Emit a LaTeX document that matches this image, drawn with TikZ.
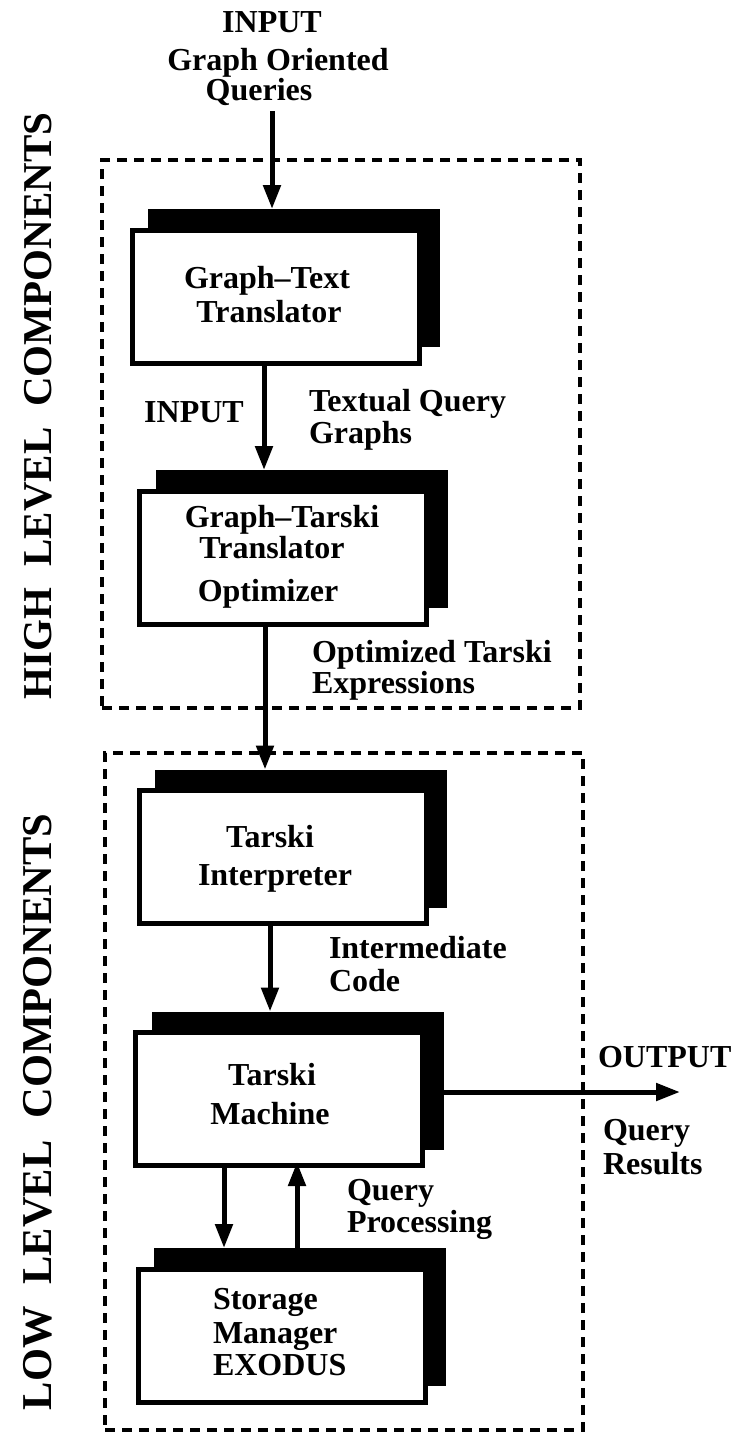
\documentclass[tikz,border=0pt]{standalone}
\usepackage{fontspec}
\setmainfont{Liberation Serif}
\usetikzlibrary{arrows.meta}
\begin{document}
\begin{tikzpicture}[x=1pt,y=-1pt,
  every node/.style={font=\bfseries\fontsize{32}{35}\selectfont, inner sep=0pt, outer sep=0pt},
  front/.style={draw=black, line width=5pt, fill=white, minimum width=287pt, minimum height=133pt},
  shadow/.style={fill=black, minimum width=292pt, minimum height=138pt},
  grp/.style={draw=black, line width=4.5pt, dash pattern=on 10pt off 7pt},
  arr/.style={line width=5pt, -{Triangle[length=24pt,width=17pt]}},
  lbl/.style={anchor=base},
  lblw/.style={anchor=base west},
  side/.style={rotate=90}
]
\useasboundingbox (0,0) rectangle (735,1433);

% group frames
\node[grp, minimum width=478pt, minimum height=548pt] (high) at (341,434) {};
\node[grp, minimum width=478pt, minimum height=677pt] (low) at (344,1091.5) {};

% side labels
\node[side, font=\bfseries\fontsize{41}{44}\selectfont] (hl) at (38,406) {HIGH\hspace{21pt}LEVEL\hspace{21pt}COMPONENTS};
\node[side, font=\bfseries\fontsize{42.5}{46}\selectfont] (ll) at (38,1112) {LOW\hspace{22pt}LEVEL\hspace{22pt}COMPONENTS};

% boxes: shadows then fronts
\node[shadow] (s1) at (294,278) {};
\node[front]  (b1) at (276,296.5) {};
\node[shadow] (s2) at (301.5,539) {};
\node[front]  (b2) at (283,557.5) {};
\node[shadow] (s3) at (301,838.5) {};
\node[front]  (b3) at (282.5,857) {};
\node[shadow] (s4) at (298,1080.5) {};
\node[front]  (b4) at (278.5,1098.5) {};
\node[shadow] (s5) at (299.5,1317) {};
\node[front]  (b5) at (281.5,1335.5) {};

% box texts
\node[lbl] (t1a) at (267,288) {Graph–Text};
\node[lbl] (t1b) at (269,322) {Translator};
\node[lbl] (t2a) at (282,527) {Graph–Tarski};
\node[lbl] (t2b) at (272,558) {Translator};
\node[lbl] (t2c) at (268,601) {Optimizer};
\node[lbl] (t3a) at (270,847) {Tarski};
\node[lbl] (t3b) at (275,885) {Interpreter};
\node[lbl] (t4a) at (272,1085) {Tarski};
\node[lbl] (t4b) at (270,1124) {Machine};
\node[lblw] (t5a) at (213,1309) {Storage};
\node[lblw] (t5b) at (213,1343) {Manager};
\node[lblw] (t5c) at (213,1375) {EXODUS};

% top input
\node[lbl] (in0) at (272,32) {INPUT};
\node[lbl] (in1) at (278,70) {Graph Oriented};
\node[lbl] (in2) at (259,100) {Queries};
\coordinate (inq) at (272,111);

% labels on connectors
\node[lbl] (inp) at (194,422) {INPUT};
\node[lblw] (tq1) at (309,411) {Textual Query};
\node[lblw] (tq2) at (309,443) {Graphs};
\node[lblw] (ot1) at (312,662) {Optimized Tarski};
\node[lblw] (ot2) at (312,693) {Expressions};
\node[lblw] (ic1) at (329,958) {Intermediate};
\node[lblw] (ic2) at (329,991) {Code};
\node[lblw] (out1) at (598,1067) {OUTPUT};
\node[lblw] (qr1) at (603,1140) {Query};
\node[lblw] (qr2) at (603,1174) {Results};
\node[lblw] (qp1) at (347,1200) {Query};
\node[lblw] (qp2) at (347,1232) {Processing};

% connectors
\draw[arr] (inq) -- (inq |- s1.north);
\draw[arr] ([xshift=-12pt]b1.south) -- ([xshift=-12pt]b1.south |- s2.north);
\draw[arr] ([xshift=-18pt]b2.south) -- ([xshift=-18pt]b2.south |- s3.north);
\draw[arr] ([xshift=-12.5pt]b3.south) -- ([xshift=-12.5pt]b3.south |- s4.north);
\draw[arr] ([xshift=-54.5pt]b4.south) -- ([xshift=-54.5pt]b4.south |- s5.north);
\draw[arr] ([xshift=-2.5pt]s5.north) -- ([xshift=-2.5pt,yshift=3pt]s5.north |- b4.south);
\coordinate (outp) at (680,1092);
\draw[arr] (s4.east |- outp) -- (outp);
\end{tikzpicture}
\end{document}
